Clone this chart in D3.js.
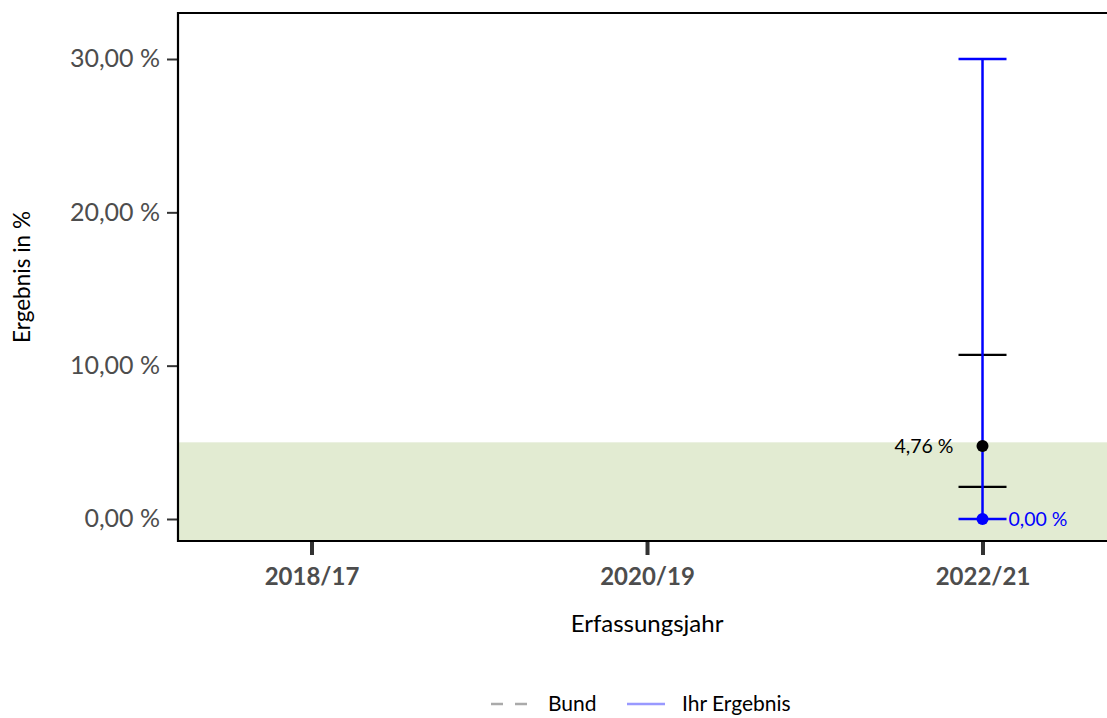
<!DOCTYPE html>
<html><head><meta charset="utf-8">
<script src="https://cdn.jsdelivr.net/npm/d3@7"></script>
<style>body{margin:0;background:#fff}svg{display:block}</style>
</head><body><svg id="c" width="1107" height="718"></svg>
<script>
const years = ["2018/17", "2020/19", "2022/21"];
const yTicks = [0, 10, 20, 30];
const refBand = [0, 5];
// black reference estimate with interval
const refYear = ["2022/21"];
const refValue = [4.76];
const refLow = [2.1];
const refHigh = [10.7];
// "Ihr Ergebnis" (blue)
const ihrYear = ["2022/21"];
const ihrValue = [0.0];
const ihrLow = [0.0];
const ihrHigh = [30.0];
const legendLabels = ["Bund", "Ihr Ergebnis"];

const font = "Lato, 'Open Sans', sans-serif";
const svg = d3.select("#c");
const L = 178, T = 13, R = 1110, B = 541;
const x = d3.scaleLinear().domain([-0.398, 2.38]).range([L, R]);
const xi = y => years.indexOf(y);
const y = d3.scaleLinear().domain([-1.435, 33.0]).range([B, T]);
const fmt = v => d3.format(".2f")(v).replace(".", ",") + " %";

svg.append("rect").attr("x", L).attr("y", y(refBand[1])).attr("width", R - L)
  .attr("height", B - y(refBand[1])).attr("fill", "#e2ebd2");

// y axis
const ya = svg.append("g").attr("transform", `translate(${L},0)`)
  .call(d3.axisLeft(y).tickValues(yTicks).tickSize(11).tickPadding(7).tickFormat(fmt));
ya.select(".domain").remove();
ya.selectAll("line").attr("stroke", "#333").attr("stroke-width", 2);
ya.selectAll("text").attr("font-family", font).attr("font-size", 25).attr("fill", "#4d4d4d");

// x axis
const xa = svg.append("g").attr("transform", `translate(0,${B})`)
  .call(d3.axisBottom(x).tickValues(years.map((d, i) => i)).tickSize(14).tickPadding(13)
    .tickFormat(i => years[i]));
xa.select(".domain").remove();
xa.selectAll("line").attr("stroke", "#333").attr("stroke-width", 4);
xa.selectAll("text").attr("font-family", font).attr("font-size", 24).attr("font-weight", "bold").attr("fill", "#4d4d4d");

// panel borders
svg.append("path").attr("d", `M${R},${T}H${L}V${B}H${R}`).attr("fill", "none")
  .attr("stroke", "#000").attr("stroke-width", 2.2);

const cap = 24;
// reference interval (black)
refYear.forEach((yr, k) => {
  const cx = x(xi(yr));
  [refLow[k], refHigh[k]].forEach(v => svg.append("line").attr("x1", cx - cap).attr("x2", cx + cap)
    .attr("y1", y(v)).attr("y2", y(v)).attr("stroke", "#000").attr("stroke-width", 2.2));
});
// blue interval
ihrYear.forEach((yr, k) => {
  const cx = x(xi(yr));
  svg.append("line").attr("x1", cx).attr("x2", cx).attr("y1", y(ihrLow[k])).attr("y2", y(ihrHigh[k])).attr("stroke", "#0000ff").attr("stroke-width", 2.5);
  [ihrLow[k], ihrHigh[k]].forEach(v => svg.append("line").attr("x1", cx - cap).attr("x2", cx + cap).attr("y1", y(v)).attr("y2", y(v)).attr("stroke", "#0000ff").attr("stroke-width", 2.5));
});
refYear.forEach((yr, k) => {
  const cx = x(xi(yr));
  svg.append("circle").attr("cx", cx).attr("cy", y(refValue[k])).attr("r", 6).attr("fill", "#000");
  svg.append("text").attr("x", cx - 29).attr("y", y(refValue[k])).attr("dy", "0.35em").attr("text-anchor", "end")
    .attr("font-family", font).attr("font-size", 19.5).attr("fill", "#000").text(fmt(refValue[k]));
});
ihrYear.forEach((yr, k) => {
  const cx = x(xi(yr));
  svg.append("circle").attr("cx", cx).attr("cy", y(ihrValue[k])).attr("r", 6).attr("fill", "#0000ff");
  svg.append("text").attr("x", cx + 26).attr("y", y(ihrValue[k])).attr("dy", "0.35em")
    .attr("font-family", font).attr("font-size", 19.5).attr("fill", "#0000ff").text(fmt(ihrValue[k]));
});

// titles
svg.append("text").attr("transform", "translate(30,277) rotate(-90)").attr("text-anchor", "middle")
  .attr("font-family", font).attr("font-size", 22.5).attr("fill", "#000").text("Ergebnis in %");
svg.append("text").attr("x", x(1)).attr("y", 632).attr("text-anchor", "middle")
  .attr("font-family", font).attr("font-size", 24).attr("fill", "#000").text("Erfassungsjahr");

// legend
const lg = svg.append("g");
lg.append("line").attr("x1", 491).attr("x2", 531).attr("y1", 704).attr("y2", 704).attr("stroke", "#aaaaaa").attr("stroke-width", 2.5).attr("stroke-dasharray", "12,12");
lg.append("text").attr("x", 548).attr("y", 704).attr("dy", "0.35em").attr("font-family", font).attr("font-size", 21).text(legendLabels[0]);
lg.append("line").attr("x1", 627).attr("x2", 665).attr("y1", 704).attr("y2", 704).attr("stroke", "#9999ff").attr("stroke-width", 2.5);
lg.append("text").attr("x", 682).attr("y", 704).attr("dy", "0.35em").attr("font-family", font).attr("font-size", 21).text(legendLabels[1]);
</script></body></html>
